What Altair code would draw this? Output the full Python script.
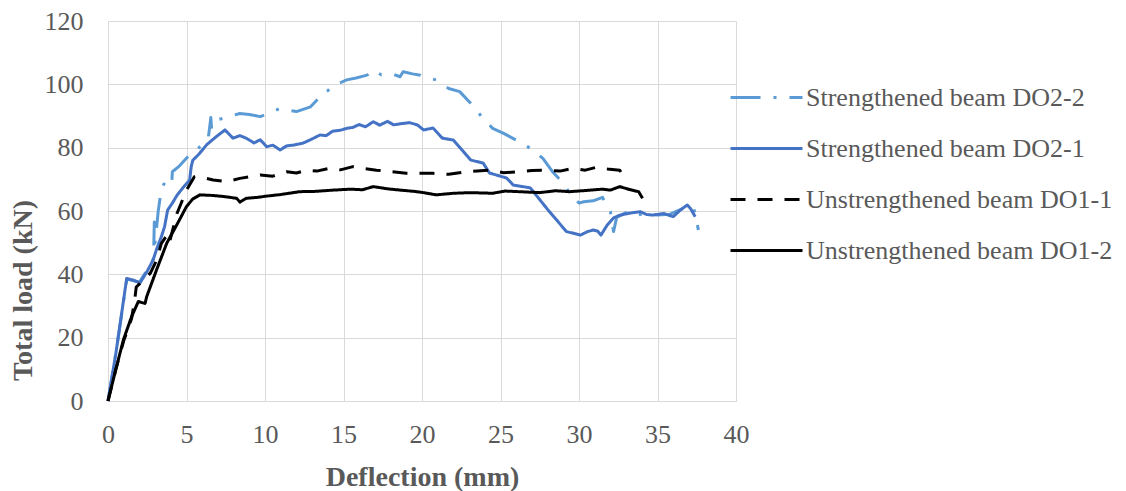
import altair as alt
import pandas as pd

series_names = ["Strengthened beam DO2-2", "Strengthened beam DO2-1",
                "Unstrengthened beam DO1-1", "Unstrengthened beam DO1-2"]
series_colors = ["#5B9BD5", "#4472C4", "#000000", "#000000"]
series_dashes = [[30, 13, 3, 13], [1, 0], [15, 12], [1, 0]]

do22_x = [0, 0.5, 1.2, 2.0, 2.7, 2.9, 2.95, 3.0, 3.2, 3.4, 3.7, 4.06, 4.1, 4.5, 5.1, 5.65, 6.0, 6.4,
          6.55, 6.6, 6.9, 7.5, 8.4, 9.0, 9.7, 10.3, 10.96, 11.5, 12.0, 12.9, 13.3, 13.6, 14.0, 14.35,
          14.8, 15.2, 15.8, 16.5, 16.9, 17.4, 18.0, 18.6, 18.8, 19.4, 19.9, 20.1, 20.9, 21.7, 22.4,
          23.1, 23.8, 24.5, 25.2, 26.0, 26.9, 27.7, 28.3, 28.9, 29.5, 30.0, 30.3, 30.9, 31.5, 31.8,
          32.0, 32.2, 32.4, 33.0, 33.6, 34.3, 35.0, 35.8, 36.5, 37.0, 37.3, 37.5, 37.6]
do22_y = [0, 15, 38.5, 37.5, 43, 45, 56.5, 50, 60, 67, 69.8, 68.8, 72.4, 74, 77.2, 79.3, 81, 83.5,
          89.5, 86, 88.7, 89.5, 90.8, 90.5, 89.8, 91, 92.4, 91.8, 91.4, 92.9, 95, 97.1, 98, 99.8,
          100.5, 101.4, 102, 102.9, 104.5, 103, 103.5, 102.4, 104, 103.3, 102.9, 102.4, 101.4, 98.7, 97.7,
          94, 89.8, 86.1, 84.5, 82.4, 79.8, 76.6, 72.5, 69.3, 65.1, 62.5, 62.9, 63.2, 64.3, 61,
          59.8, 53.5, 58, 59.5, 58.5, 59.5, 58.7, 59, 60.5, 61.5, 61, 57, 54]

do21_x = [0, 0.5, 1.19, 1.6, 2.04, 2.5, 2.87, 3.1, 3.4, 3.6, 3.8, 4.1, 4.4, 4.8, 5.2, 5.3, 5.4, 5.8,
          6.3, 6.9, 7.45, 7.96, 8.4, 8.8, 9.3, 9.7, 10.1, 10.5, 10.96, 11.4, 11.8, 12.4, 12.9, 13.5,
          13.9, 14.3, 14.8, 15.2, 15.6, 16.0, 16.4, 16.9, 17.3, 17.8, 18.2, 18.7, 19.2, 19.7, 20.1,
          20.7, 21.3, 22.0, 22.6, 23.1, 23.9, 24.3, 25.4, 25.8, 26.9, 28.0, 29.2, 30.1, 30.5, 30.9,
          31.2, 31.4, 31.8, 32.2, 32.6, 33.2, 33.9, 34.3, 34.7, 35.4, 36.0, 36.5, 36.9, 37.1, 37.4]
do21_y = [0, 15, 38.7, 38.2, 37.3, 41, 44.5, 48, 51.9, 55, 60.3, 62.5, 65, 67.5, 69.8, 74, 76, 78,
          81, 83.5, 85.6, 83, 83.8, 83, 81.5, 82.5, 80.3, 80.8, 79.3, 80.6, 80.8, 81.4, 82.5, 84,
          83.8, 85.2, 85.5, 86.1, 86.4, 87.3, 86.6, 88.2, 87.1, 88.3, 87.2, 87.6, 87.9, 87.2, 85.6,
          86.2, 83, 82.4, 79, 76.1, 75.1, 72, 70.4, 68.2, 67.3, 60.5, 53.5, 52.4, 53.4, 54,
          53.6, 52.4, 55.6, 57.8, 58.7, 59.3, 59.8, 58.9, 58.7, 59.2, 58.2, 60.5, 61.9, 60.8, 58.2]

do11_x = [0, 0.5, 1.0, 1.5, 1.7, 1.8, 2.15, 2.7, 3.1, 3.4, 3.84, 3.95, 4.4, 5.0, 5.5, 5.7, 6.7, 7.56,
          8.4, 9.0, 9.7, 10.5, 11.4, 12.0, 12.65, 13.3, 14.1, 14.8, 15.6, 16.3, 17.1, 18.0, 19.0,
          20.7, 21.7, 22.8, 24.3, 25.2, 26.2, 27.0, 27.9, 28.8, 29.6, 30.4, 31.1, 31.8, 32.6, 32.9]
do11_y = [0, 10, 19, 26, 31.9, 36, 37.7, 40.4, 44.5, 49.8, 53, 50.8, 59.3, 66.6, 70.8, 71, 69.8, 69.3,
          70.3, 70.8, 71.4, 71, 72.4, 72, 72.9, 72.6, 73.5, 73, 74, 73.4, 72.9, 72.5, 71.9,
          71.9, 71.6, 72.4, 72.9, 72.1, 72.4, 72.8, 72.9, 72.6, 73.5, 72.9, 73.8, 73.3, 72.9, 70.3]

do12_x = [0, 0.5, 0.98, 1.5, 1.93, 2.36, 2.46, 3.1, 3.74, 4.4, 5.0, 5.4, 5.86, 6.7, 7.5, 8.2, 8.4,
          8.8, 9.5, 10.1, 11.0, 12.2, 13.2, 14.35, 15.5, 16.2, 16.9, 17.8, 18.6, 19.5, 20.1, 20.9,
          22.0, 23.1, 24.5, 25.3, 26.2, 27.5, 28.5, 29.4, 30.5, 31.5, 32.0, 32.6, 33.2, 33.8, 34.05]
do12_y = [0, 10, 19.3, 26.6, 31.4, 30.8, 32.9, 41.5, 49.8, 55.8, 61.4, 63.8, 65.1, 64.9, 64.5, 64.0, 62.8,
          64.0, 64.3, 64.7, 65.2, 66.1, 66.2, 66.6, 66.9, 66.7, 67.7, 67.0, 66.6, 66.2, 65.8, 65.1,
          65.6, 65.8, 65.6, 66.3, 66.1, 65.8, 66.4, 66.1, 66.5, 66.9, 66.6, 67.7, 66.8, 66.1, 64.0]

x_ticks = [0, 5, 10, 15, 20, 25, 30, 35, 40]
y_ticks = [0, 20, 40, 60, 80, 100, 120]

rows = []
for name, xs, ys in zip(series_names, [do22_x, do21_x, do11_x, do12_x], [do22_y, do21_y, do11_y, do12_y]):
    for i, (xv, yv) in enumerate(zip(xs, ys)):
        rows.append({"series": name, "deflection": xv, "load": yv, "idx": i})
df = pd.DataFrame(rows)

FONT = "Liberation Serif"
GREY = "#595959"

leg = alt.Legend(orient="none", legendX=621, legendY=39)

chart = alt.Chart(df).mark_line(strokeWidth=3, strokeJoin="round").encode(
    x=alt.X("deflection:Q", title="Deflection (mm)",
            scale=alt.Scale(domain=[0, 40], nice=False),
            axis=alt.Axis(values=x_ticks, format="d")),
    y=alt.Y("load:Q", title="Total load (kN)",
            scale=alt.Scale(domain=[0, 120], nice=False),
            axis=alt.Axis(values=y_ticks, format="d", titleY=269)),
    color=alt.Color("series:N", title=None,
                    scale=alt.Scale(domain=series_names, range=series_colors),
                    legend=leg),
    strokeDash=alt.StrokeDash("series:N", title=None,
                              scale=alt.Scale(domain=series_names, range=series_dashes),
                              legend=leg),
    order="idx:Q",
).properties(
    width=628, height=380,
    autosize=alt.AutoSizeParams(type="none"),
    padding={"left": 100, "top": 13, "right": 382, "bottom": 90},
).configure_view(stroke=None).configure_axis(
    grid=True, gridColor="#d9d9d9", gridWidth=1,
    labelFont=FONT, labelFontSize=26, labelColor=GREY, labelFlush=False,
    titleFont=FONT, titleFontSize=28, titleFontWeight="bold", titleColor=GREY,
    ticks=False,
).configure_axisX(
    domainColor="#d9d9d9", domainWidth=1, labelPadding=20, titlePadding=16,
).configure_axisY(
    domain=False, labelPadding=25, titlePadding=7,
).configure_legend(
    symbolType="stroke", symbolSize=5184, symbolStrokeWidth=3,
    labelFont=FONT, labelFontSize=26, labelColor=GREY, labelLimit=1000,
    rowPadding=-1, labelOffset=2, padding=0,
)

chart.save("out.html", embed_options={"renderer": "svg", "actions": False})
